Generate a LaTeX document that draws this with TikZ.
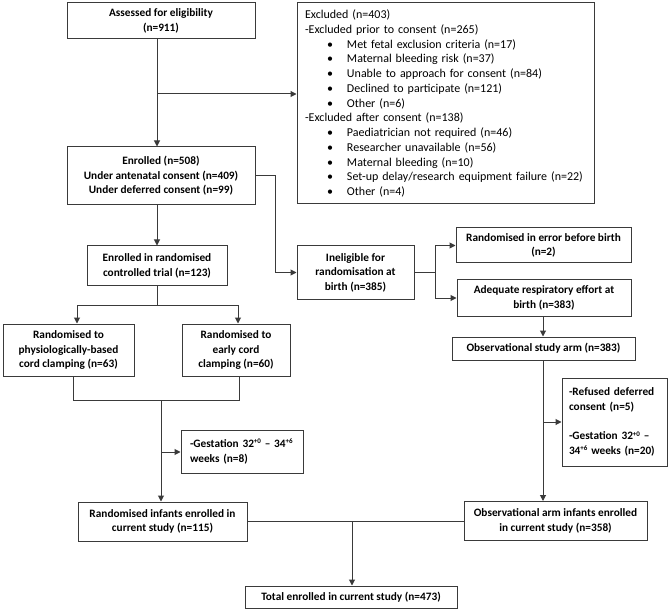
\documentclass[tikz,border=0pt]{standalone}
\usepackage{fontspec}
\setmainfont{Carlito}
\usetikzlibrary{arrows.meta,calc}
\definecolor{lc}{HTML}{3A3A3A}
\newcommand\xbul{\hspace*{22pt}\makebox[20pt][l]{•}}
\newcommand\supx[1]{\raisebox{0.65ex}{\fontsize{7}{7}\selectfont #1}}
\begin{document}
\begin{tikzpicture}[x=1pt,y=-1pt,
  box/.style={draw=lc, line width=1pt, inner sep=0pt, align=center,
    font=\fontsize{11.3}{14.6}\selectfont\bfseries},
  lbox/.style={box, align=left},
  conn/.style={draw=lc, line width=1pt},
  arr/.style={conn, -{Triangle[length=6pt,width=6pt]}}]
\path[use as bounding box] (0,0) rectangle (669,612);

\node[box, minimum width=188pt, minimum height=36pt] (assess) at (161,21) {Assessed for eligibility\\(n=911)};
\node[lbox, minimum width=297pt, minimum height=201pt, text width=281pt,
  font=\fontsize{12}{14.75}\selectfont] (excl) at (445.5,103.5) {Excluded (n=403)\\
-Excluded prior to consent (n=265)\\
\xbul Met fetal exclusion criteria (n=17)\\
\xbul Maternal bleeding risk (n=37)\\
\xbul Unable to approach for consent (n=84)\\
\xbul Declined to participate (n=121)\\
\xbul Other (n=6)\\
-Excluded after consent (n=138)\\
\xbul Paediatrician not required (n=46)\\
\xbul Researcher unavailable (n=56)\\
\xbul Maternal bleeding (n=10)\\
\xbul Set-up delay/research equipment failure (n=22)\\
\xbul Other (n=4)};
\node[box, minimum width=188pt, minimum height=58pt] (enrol) at (161,176) {Enrolled (n=508)\\Under antenatal consent (n=409)\\Under deferred consent (n=99)};
\node[box, minimum width=140pt, minimum height=40pt] (rct) at (157,266) {Enrolled in randomised\\controlled trial (n=123)};
\node[box, minimum width=131pt, minimum height=52pt] (phys) at (68.5,350) {Randomised to\\physiologically-based\\cord clamping (n=63)};
\node[box, minimum width=108pt, minimum height=52pt] (early) at (236,350) {Randomised to\\early cord\\clamping (n=60)};
\node[lbox, minimum width=122pt, minimum height=43pt, text width=104pt] (gest1) at (242,451.5) {\mbox{-Gestation 32\supx{+0} – 34\supx{+6}}\\\mbox{weeks (n=8)}};
\node[box, minimum width=169pt, minimum height=39pt] (randinf) at (162.5,521.5) {Randomised infants enrolled in\\current study (n=115)};
\node[box, minimum width=212pt, minimum height=22pt] (total) at (351,597) {Total enrolled in current study (n=473)};
\node[box, minimum width=117pt, minimum height=53pt] (inelig) at (355.5,272.5) {Ineligible for\\randomisation at\\birth (n=385)};
\node[box, minimum width=175pt, minimum height=35pt] (err) at (543.5,245.5) {Randomised in error before birth\\(n=2)};
\node[box, minimum width=174pt, minimum height=36pt] (adeq) at (544,298) {Adequate respiratory effort at\\birth (n=383)};
\node[box, minimum width=183pt, minimum height=23pt] (obsarm) at (543.5,348.5) {Observational study arm (n=383)};
\node[lbox, minimum width=105pt, minimum height=88pt, text width=91pt] (refused) at (614.5,422) {\mbox{-Refused deferred}\\\mbox{consent (n=5)}\\[14.6pt]\mbox{-Gestation 32\supx{+0} –}\\\mbox{34\supx{+6} weeks (n=20)}};
\node[box, minimum width=183pt, minimum height=39pt] (obsinf) at (555.5,521) {Observational arm infants enrolled\\in current study (n=358)};

% connectors
\coordinate (a1) at (157,94);
\draw[arr] (assess.south -| a1) -- (enrol.north -| a1);
\draw[arr] (a1) -- (excl.west |- a1);
\coordinate (k1) at (275,0);
\draw[arr] (enrol.east) -- (k1 |- enrol.east) -- (k1 |- inelig.west) -- (inelig.west);
\draw[arr] (enrol.south -| a1) -- (rct.north -| a1);
\coordinate (s1) at (157,305);
\coordinate (pl) at (77,305);
\coordinate (pr) at (238,305);
\draw[conn] (rct.south) -- (s1);
\draw[arr] (s1) -- (pl) -- (phys.north -| pl);
\draw[arr] (s1) -- (pr) -- (early.north -| pr);
\coordinate (m1) at (73,400);
\coordinate (m2) at (239,400);
\coordinate (m3) at (161,400);
\draw[conn] (phys.south -| m1) -- (m1) -- (m2) -- (early.south -| m2);
\draw[arr] (m3) -- (randinf.north -| m3);
\coordinate (g1) at (161,452);
\draw[arr] (g1) -- (gest1.west |- g1);
\draw[conn] (randinf.east) -- (obsinf.west |- randinf.east);
\coordinate (t1) at (352,521.5);
\draw[arr] (t1) -- (total.north -| t1);
\coordinate (b1) at (435,272.5);
\draw[conn] (inelig.east) -- (b1);
\draw[arr] (b1) |- (err.west);
\draw[arr] (b1) |- (adeq.west);
\coordinate (c1) at (543,0);
\draw[arr] (adeq.south -| c1) -- (obsarm.north -| c1);
\draw[arr] (obsarm.south -| c1) -- (obsinf.north -| c1);
\coordinate (r1) at (543,422);
\draw[arr] (r1) -- (refused.west |- r1);
\end{tikzpicture}
\end{document}
